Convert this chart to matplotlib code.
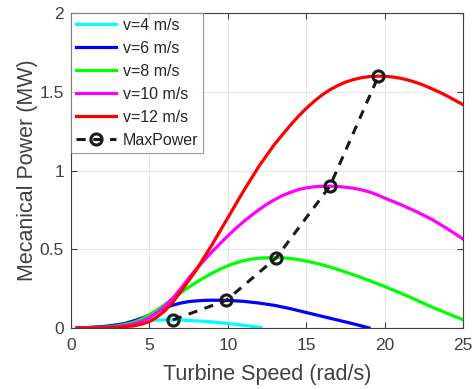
import matplotlib.pyplot as plt

# Turbine speed (rad/s) and mechanical power (MW)
speed_4 = [0.4, 1, 2, 3, 3.5, 4, 4.5, 5, 5.5, 6, 6.5, 7, 8, 9, 10, 11, 12.1]
power_4 = [0, 0.002, 0.008, 0.02, 0.028, 0.036, 0.043, 0.048, 0.05, 0.051, 0.051,
           0.05, 0.045, 0.038, 0.028, 0.017, 0.003]

speed_6 = [0.4, 1, 2, 3, 3.5, 4, 4.5, 5, 5.5, 6, 6.5, 7, 7.5, 8, 8.5, 9, 9.5, 10,
           11, 12, 13, 14, 15, 16, 17, 18, 19]
power_6 = [0, 0.002, 0.008, 0.02, 0.03, 0.045, 0.062, 0.082, 0.105, 0.127, 0.145,
           0.158, 0.167, 0.172, 0.175, 0.176, 0.176, 0.175, 0.169, 0.158, 0.143,
           0.122, 0.098, 0.074, 0.05, 0.026, 0.0]

speed_8 = [0.4, 1, 2, 3, 4, 4.5, 5, 5.5, 6, 6.5, 7, 7.5, 8, 8.5, 9, 9.5, 10, 10.5,
           11, 11.5, 12, 12.5, 13, 13.5, 14, 14.5, 15, 16, 17, 18, 19, 20, 21, 22,
           23, 24, 25]
power_8 = [0, 0.001, 0.004, 0.013, 0.035, 0.056, 0.083, 0.115, 0.15, 0.188, 0.224,
           0.258, 0.29, 0.32, 0.348, 0.373, 0.395, 0.413, 0.427, 0.437, 0.443, 0.446,
           0.447, 0.446, 0.441, 0.434, 0.425, 0.402, 0.372, 0.338, 0.302, 0.263,
           0.222, 0.178, 0.133, 0.092, 0.052]

speed_10 = [0.4, 1, 2, 3, 4, 4.5, 5, 5.5, 6, 6.5, 7, 7.5, 8, 8.5, 9, 9.5, 10, 10.5,
            11, 11.5, 12, 12.5, 13, 13.5, 14, 14.5, 15, 15.5, 16, 16.5, 17, 17.5,
            18, 18.5, 19, 19.5, 20, 21, 22, 23, 24, 25]
power_10 = [0, 0.0, 0.002, 0.008, 0.025, 0.042, 0.065, 0.098, 0.14, 0.19, 0.25,
            0.315, 0.375, 0.43, 0.485, 0.535, 0.585, 0.632, 0.675, 0.715, 0.752, 0.787,
            0.816, 0.842, 0.862, 0.879, 0.89, 0.897, 0.90, 0.901, 0.899, 0.894,
            0.888, 0.878, 0.865, 0.847, 0.825, 0.785, 0.74, 0.69, 0.63, 0.564]

speed_12 = [0.4, 1, 2, 3, 4, 4.5, 5, 5.5, 6, 6.5, 7, 7.5, 8, 8.5, 9, 9.5, 10, 10.5,
            11, 11.5, 12, 12.5, 13, 13.5, 14, 14.5, 15, 15.5, 16, 16.5, 17, 17.5,
            18, 18.5, 19, 19.6, 20, 20.5, 21, 21.5, 22, 22.5, 23, 23.5, 24, 24.5, 25]
power_12 = [0, 0.0, 0.001, 0.004, 0.013, 0.024, 0.04, 0.07, 0.11, 0.165, 0.23,
            0.30, 0.37, 0.45, 0.53, 0.615, 0.70, 0.785, 0.87, 0.95, 1.03, 1.10,
            1.17, 1.23, 1.29, 1.345, 1.395, 1.44, 1.48, 1.513, 1.54, 1.562, 1.578,
            1.59, 1.597, 1.60, 1.599, 1.595, 1.587, 1.575, 1.56, 1.542, 1.52, 1.498,
            1.473, 1.446, 1.418]

# Max power points
max_speed = [6.5, 9.9, 13.1, 16.5, 19.6]
max_power = [0.051, 0.175, 0.447, 0.90, 1.60]

plt.rcParams['font.family'] = ['Liberation Sans', 'DejaVu Sans']
grey = '#404040'

fig = plt.figure(figsize=(4.76, 3.89), dpi=100)
ax = fig.add_axes([0.149, 0.157, 0.824, 0.809])

lw = 2.3
ax.plot(speed_4, power_4, color='cyan', lw=lw, label='v=4 m/s')
ax.plot(speed_6, power_6, color='blue', lw=lw, label='v=6 m/s')
ax.plot(speed_8, power_8, color='lime', lw=lw, label='v=8 m/s')
ax.plot(speed_10, power_10, color='magenta', lw=lw, label='v=10 m/s')
ax.plot(speed_12, power_12, color='red', lw=lw, label='v=12 m/s')
ax.plot(max_speed, max_power, color='#1a1a1a', lw=2.2, ls=(0, (3, 2.5)),
        marker='o', ms=8, mfc='none', mew=2.2, label='MaxPower')

ax.set_xlim(0, 25)
ax.set_ylim(0, 2)
ax.set_xticks([0, 5, 10, 15, 20, 25])
ax.set_yticks([0, 0.5, 1, 1.5, 2])
ax.set_yticklabels(['0', '0.5', '1', '1.5', '2'])
ax.grid(True, color='#e6e6e6', lw=0.8)
ax.set_axisbelow(True)

for s in ax.spines.values():
    s.set_color(grey)
    s.set_linewidth(0.8)
ax.tick_params(direction='in', top=True, right=True, colors=grey,
               labelsize=12.5, length=4, width=0.8, labelcolor=grey)
ax.tick_params(axis='x', pad=7)
ax.tick_params(axis='y', pad=5)

ax.set_xlabel('Turbine Speed (rad/s)', fontsize=15.5, color=grey, labelpad=8)
ax.set_ylabel('Mecanical Power (MW)', fontsize=15.5, color=grey, labelpad=1)

leg = ax.legend(loc='upper left', fontsize=11.5, frameon=True, fancybox=False,
                edgecolor='#808080', handlelength=2.5, borderaxespad=0.0,
                labelspacing=0.5, handletextpad=0.45, borderpad=0.3)
leg.get_frame().set_linewidth(0.8)
for t in leg.get_texts():
    t.set_color('#262626')

fig.savefig('out.png', dpi=100)
